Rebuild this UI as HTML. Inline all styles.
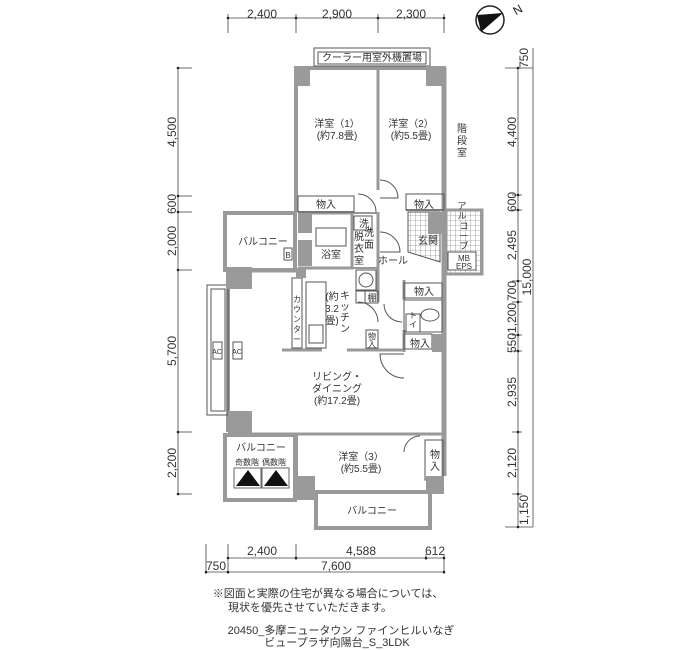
<!DOCTYPE html>
<html><head><meta charset="utf-8"><style>
html,body{margin:0;padding:0;background:#fff;}
svg{display:block;font-family:"Liberation Sans","Noto Sans CJK JP",sans-serif;}
</style></head><body>
<svg width="700" height="650" viewBox="0 0 700 650" xmlns="http://www.w3.org/2000/svg">
<defs>
 <pattern id="grid" width="5" height="5" patternUnits="userSpaceOnUse">
  <path d="M5 0 L0 0 0 5" fill="none" stroke="#666" stroke-width="0.6"/>
 </pattern>
</defs>
<g stroke="#444" stroke-width="0.8" fill="none">
 <line x1="228" y1="18" x2="444" y2="18"/>
 <line x1="228" y1="14" x2="228" y2="33"/><line x1="296" y1="14" x2="296" y2="33"/>
 <line x1="378" y1="14" x2="378" y2="33"/><line x1="444" y1="14" x2="444" y2="33"/>
 <line x1="178" y1="68" x2="178" y2="494"/>
 <line x1="178" y1="68" x2="192" y2="68"/><line x1="178" y1="196" x2="192" y2="196"/>
 <line x1="178" y1="212" x2="192" y2="212"/><line x1="178" y1="270" x2="192" y2="270"/>
 <line x1="178" y1="432" x2="192" y2="432"/><line x1="178" y1="494" x2="192" y2="494"/>
 <line x1="518" y1="68" x2="518" y2="527"/>
 <line x1="533" y1="48" x2="533" y2="527"/>
 <line x1="505" y1="68" x2="533" y2="68"/>
 <line x1="512" y1="195" x2="522" y2="195"/><line x1="512" y1="210" x2="522" y2="210"/>
 <line x1="512" y1="281" x2="522" y2="281"/><line x1="512" y1="302" x2="522" y2="302"/>
 <line x1="512" y1="335" x2="522" y2="335"/><line x1="512" y1="351" x2="522" y2="351"/>
 <line x1="512" y1="432" x2="522" y2="432"/><line x1="512" y1="494" x2="522" y2="494"/>
 <line x1="505" y1="527" x2="533" y2="527"/>
 <line x1="228" y1="558" x2="444" y2="558"/>
 <line x1="206" y1="572" x2="444" y2="572"/>
 <line x1="206" y1="544" x2="206" y2="574"/><line x1="228" y1="544" x2="228" y2="574"/>
 <line x1="296" y1="544" x2="296" y2="560"/><line x1="426" y1="554" x2="426" y2="560"/>
 <line x1="444" y1="554" x2="444" y2="574"/>
</g>
<g fill="#222">
 <circle cx="228" cy="18" r="1.3"/><circle cx="296" cy="18" r="1.3"/><circle cx="378" cy="18" r="1.3"/><circle cx="444" cy="18" r="1.3"/>
 <circle cx="178" cy="68" r="1.3"/><circle cx="178" cy="196" r="1.3"/><circle cx="178" cy="212" r="1.3"/><circle cx="178" cy="270" r="1.3"/><circle cx="178" cy="432" r="1.3"/><circle cx="178" cy="494" r="1.3"/>
 <circle cx="518" cy="68" r="1.3"/><circle cx="518" cy="195" r="1.3"/><circle cx="518" cy="210" r="1.3"/><circle cx="518" cy="281" r="1.3"/><circle cx="518" cy="302" r="1.3"/><circle cx="518" cy="335" r="1.3"/><circle cx="518" cy="351" r="1.3"/><circle cx="518" cy="432" r="1.3"/><circle cx="518" cy="494" r="1.3"/><circle cx="518" cy="527" r="1.3"/>
 <circle cx="228" cy="558" r="1.3"/><circle cx="296" cy="558" r="1.3"/><circle cx="426" cy="558" r="1.3"/><circle cx="444" cy="558" r="1.3"/>
 <circle cx="206" cy="572" r="1.3"/><circle cx="228" cy="572" r="1.3"/><circle cx="444" cy="572" r="1.3"/>
</g>
<g font-size="12" fill="#333" text-anchor="middle">
 <text x="262" y="18">2,400</text><text x="337" y="18">2,900</text><text x="411" y="18">2,300</text>
 <text x="262" y="555">2,400</text><text x="361" y="555">4,588</text><text x="435" y="555">612</text>
 <text x="216" y="570">750</text><text x="336" y="570">7,600</text>
 <text transform="translate(176,132) rotate(-90)">4,500</text>
 <text transform="translate(176,204) rotate(-90)">600</text>
 <text transform="translate(176,241) rotate(-90)">2,000</text>
 <text transform="translate(176,351) rotate(-90)">5,700</text>
 <text transform="translate(176,463) rotate(-90)">2,200</text>
 <text transform="translate(528,58) rotate(-90)">750</text>
 <text transform="translate(516,132) rotate(-90)">4,400</text>
 <text transform="translate(516,202) rotate(-90)">600</text>
 <text transform="translate(516,245) rotate(-90)">2,495</text>
 <text transform="translate(516,291) rotate(-90)">700</text>
 <text transform="translate(516,318) rotate(-90)">1,200</text>
 <text transform="translate(516,343) rotate(-90)">550</text>
 <text transform="translate(516,392) rotate(-90)">2,935</text>
 <text transform="translate(516,463) rotate(-90)">2,120</text>
 <text transform="translate(528,510) rotate(-90)">1,150</text>
 <text transform="translate(531,277) rotate(-90)">15,000</text>
</g>
<circle cx="490" cy="20" r="14" fill="#fff" stroke="#222" stroke-width="1.5"/>
<path d="M477 15 L503 13 L481 32 Z" fill="#111"/>
<text x="514" y="16" font-size="12" fill="#222" transform="rotate(-30 514 12)">N</text>

<g stroke="#999" fill="none">
 <path d="M296 68 L444 68" stroke-width="4"/>
 <path d="M444 68 L444 476" stroke-width="5"/>
 <path d="M296 68 L296 212" stroke-width="4"/>
 <path d="M378 68 L378 190" stroke-width="3"/>
 <path d="M378 212 L378 302" stroke-width="3"/>
 <rect x="225" y="213" width="70" height="57" stroke-width="4"/>
 <path d="M228 270 L228 432" stroke-width="4"/>
 <path d="M228 271 L300 271" stroke-width="3"/>
 <path d="M282 350 L322 350 M347 350 L404 350" stroke-width="3"/>
 <path d="M404 280 L404 300 M404 330 L404 352" stroke-width="3"/>
 <path d="M228 434 L444 434" stroke-width="3"/>
 <rect x="225" y="435" width="70" height="65" stroke-width="4"/>
 <path d="M296 434 L296 500" stroke-width="4"/>
 <path d="M296 492 L430 492" stroke-width="3"/>
 <rect x="316" y="492" width="114" height="36" stroke-width="4"/>
 <path d="M298 213 L352 213 L352 268 L298 268" stroke-width="3"/>
 <path d="M352 213 L378 213 M352 268 L378 268" stroke-width="2"/>
 <path d="M298 212 L354 212 M406 210 L444 210" stroke-width="2"/>
 <rect x="446" y="210" width="36" height="64" stroke-width="3" fill="url(#grid)"/>
</g>
<g stroke="#555" stroke-width="1" fill="none">
 <rect x="314" y="48" width="116" height="18"/><rect x="318" y="52" width="108" height="12"/>
 <rect x="207" y="285" width="21" height="130"/><rect x="211" y="289" width="14" height="122"/>
 <rect x="213" y="342" width="9" height="17"/><rect x="233" y="342" width="9" height="17"/>
 <rect x="298" y="196" width="56" height="16"/>
 <rect x="406" y="194" width="38" height="16"/>
 <rect x="404" y="283" width="38" height="15"/>
 <rect x="404" y="334" width="28" height="15"/>
 <rect x="425" y="440" width="18" height="40"/>
 <rect x="366" y="330" width="12" height="18"/>
 <rect x="316" y="228" width="30" height="18"/>
 <rect x="354" y="216" width="18" height="14"/>
 <rect x="356" y="270" width="20" height="20"/><circle cx="366" cy="280" r="7"/>
 <rect x="356" y="291" width="9" height="12"/><rect x="365" y="291" width="13" height="12"/>
 <rect x="292" y="278" width="10" height="70"/>
 <rect x="306" y="282" width="20" height="66"/>
 <rect x="309" y="325" width="14" height="18"/>
 <rect x="404" y="300" width="38" height="32"/>
 <ellipse cx="430" cy="315" rx="9" ry="6"/>
 <rect x="406" y="314" width="14" height="18"/>
 <path d="M408 212 L440 212 L440 262 L408 252 Z" fill="url(#grid)"/>
 <rect x="448" y="252" width="28" height="18" fill="#fff"/>
 <path d="M380 180 A18 18 0 0 1 398 198 L380 198"/>
 <path d="M376 212 A18 18 0 0 0 358 194"/>
 <path d="M380 232 A20 20 0 0 1 400 252 L380 252"/>
 <path d="M404 378 A24 24 0 0 1 380 354 L404 354"/>
 <path d="M402 322 A18 18 0 0 1 384 304"/>
 <path d="M378 322 A20 20 0 0 0 358 302"/>
 <path d="M420 436 A16 16 0 0 0 404 452"/>
</g>
<g fill="#9a9a9a">
 <rect x="294" y="66" width="16" height="20"/><rect x="426" y="66" width="20" height="20"/>
 <rect x="226" y="267" width="26" height="22"/><rect x="228" y="411" width="24" height="24"/>
 <rect x="295" y="476" width="20" height="24"/><rect x="426" y="476" width="18" height="18"/>
 <rect x="298" y="213" width="14" height="20"/><rect x="298" y="240" width="14" height="26"/>
 <rect x="428" y="212" width="16" height="22"/><rect x="432" y="334" width="12" height="18"/>
 <rect x="296" y="268" width="10" height="10"/>
</g>
<path d="M236 486 L248 470 L260 486 Z" fill="#111"/>
<path d="M264 486 L276 470 L288 486 Z" fill="#111"/>
<rect x="234" y="468" width="27" height="20" fill="none" stroke="#666"/>
<rect x="262" y="468" width="27" height="20" fill="none" stroke="#666"/>
<g font-size="10" fill="#333" text-anchor="middle">
 <text x="372" y="61">クーラー用室外機置場</text>
 <text x="337" y="127">洋室（1）</text><text x="337" y="139">(約7.8畳)</text>
 <text x="411" y="127">洋室（2）</text><text x="411" y="139">(約5.5畳)</text>
 <text x="462" y="132">階</text><text x="462" y="144">段</text><text x="462" y="156">室</text>
 <text x="326" y="208">物入</text><text x="424" y="208">物入</text>
 <text x="263" y="245">バルコニー</text>
 <rect x="284" y="248" width="8" height="12" fill="none" stroke="#555"/>
 <text x="288" y="258" font-size="8">B</text>
 <text x="331" y="258">浴室</text>
 <text x="364" y="227">洗</text>
 <text x="369" y="236">洗</text><text x="369" y="248">面</text>
 <text x="359" y="240">脱</text><text x="359" y="252">衣</text><text x="359" y="264">室</text>
 <text x="428" y="244">玄関</text>
 <text x="393" y="264">ホール</text>
 <text x="464" y="261" font-size="8">MB</text><text x="464" y="269" font-size="8">EPS</text>
 <text x="462" y="209" font-size="9">ア</text><text x="462" y="219" font-size="9">ル</text>
 <text x="464" y="229" font-size="9">コ</text><text x="464" y="239" font-size="9">ー</text><text x="464" y="249" font-size="9">ブ</text>
 <text x="424" y="295">物入</text>
 <text x="420" y="347">物入</text>
 <text x="372" y="301" font-size="9">棚</text>
 <text x="345" y="299">キ</text><text x="345" y="310">ッ</text><text x="345" y="321">チ</text><text x="345" y="332">ン</text>
 <text x="332" y="300">(約</text><text x="332" y="312">3.2</text><text x="332" y="324">畳)</text>
 <text x="297" y="302" font-size="8">カ</text><text x="297" y="312" font-size="8">ウ</text><text x="297" y="322" font-size="8">ン</text><text x="297" y="332" font-size="8">タ</text><text x="297" y="342" font-size="8">ー</text>
 <text x="372" y="339" font-size="8">物</text><text x="372" y="347" font-size="8">入</text>
 <text x="413" y="318" font-size="8">ト</text><text x="413" y="327" font-size="8">イ</text>
 <text x="337" y="380">リビング・</text><text x="337" y="392">ダイニング</text><text x="337" y="404">(約17.2畳)</text>
 <text x="217" y="354" font-size="7">AC</text><text x="237" y="354" font-size="7">AC</text>
 <text x="261" y="451">バルコニー</text>
 <text x="247" y="465" font-size="8">奇数階</text><text x="274" y="465" font-size="8">偶数階</text>
 <text x="361" y="460">洋室（3）</text><text x="361" y="472">(約5.5畳)</text>
 <text x="435" y="458">物</text><text x="435" y="470">入</text>
 <text x="372" y="514">バルコニー</text>
 <text x="328" y="597" font-size="11">※図面と実際の住宅が異なる場合については、</text>
 <text x="310" y="611" font-size="11">現状を優先させていただきます。</text>
 <text x="341" y="634" font-size="11">20450_多摩ニュータウン ファインヒルいなぎ</text>
 <text x="337" y="646" font-size="11">ビュープラザ向陽台_S_3LDK</text>
</g>
</svg>
</body></html>
